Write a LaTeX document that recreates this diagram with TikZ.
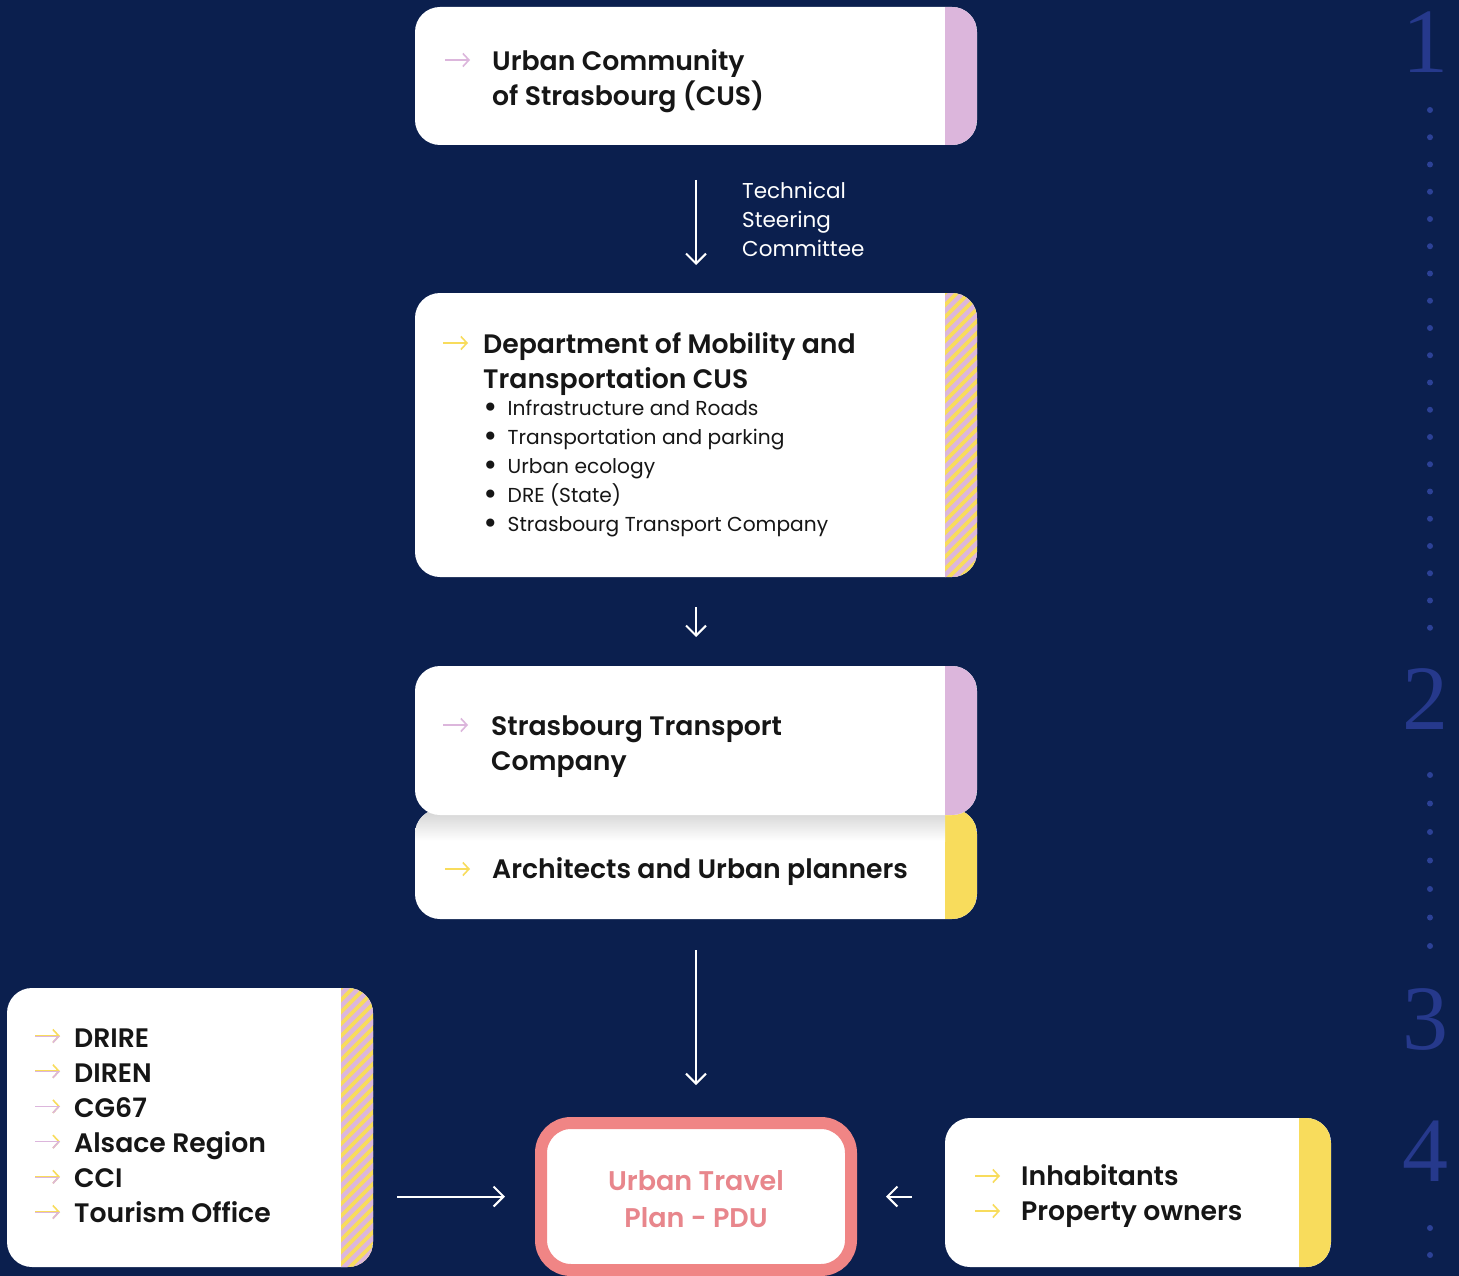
\documentclass[tikz,border=0pt]{standalone}
\usepackage{fontspec}
\setmainfont{Poppins}[BoldFont={Poppins SemiBold}]
\newfontfamily\numfont{Liberation Serif}
\newfontfamily\symfont{DejaVu Sans}
\usetikzlibrary{arrows.meta}
\definecolor{navy}{HTML}{0B1F4E}
\definecolor{lpink}{HTML}{DCB6DC}
\definecolor{lyellow}{HTML}{F8DC5C}
\definecolor{salmon}{HTML}{F08585}
\definecolor{salmontext}{HTML}{E8868C}
\definecolor{numblue}{HTML}{26398C}
\definecolor{dotblue}{HTML}{2C4196}
\definecolor{ink}{HTML}{161616}
\tikzset{
  box/.style={fill=white, rounded corners=25pt, inner sep=0pt, outer sep=0pt},
  title/.style={anchor=west, align=left, text=ink, font=\fontsize{26.7}{35}\selectfont\bfseries, inner sep=0pt},
  plain/.style={anchor=west, align=left, text=ink, font=\fontsize{20.2}{29}\selectfont, inner sep=0pt},
  flow/.style={draw=white, line width=2pt, -{Straight Barb[length=10pt,width=20pt,line width=2pt]}},
  icon/.style={line width=1.6pt, -{Straight Barb[length=6pt,width=13pt,line width=1.6pt]}},
  numstyle/.style={text=numblue, font=\fontsize{92}{92}\selectfont\numfont, inner sep=0pt},
  dot/.style={circle, fill=dotblue, inner sep=0pt, minimum size=6pt},
}
\newcommand\solidbar[2]{%
  \begin{scope}
    \clip[rounded corners=25pt] (#1.south west) rectangle (#1.north east);
    \fill[#2] ([xshift=-32pt]#1.north east) rectangle (#1.south east);
  \end{scope}}
\newcommand\stripedbar[3]{% node, top y, bottom y
  \begin{scope}
    \clip[rounded corners=25pt] (#1.south west) rectangle (#1.north east);
    \clip ([xshift=-32pt]#1.north east) rectangle (#1.south east);
    \fill[lyellow] ([xshift=-32pt]#1.north east) rectangle (#1.south east);
    \pgfmathtruncatemacro\nst{(#3-#2+60)/12}
    \foreach \k in {0,...,\nst} {
      \draw[lpink, line width=4.3pt] ([xshift=-40pt]#1.north east |- 0,#2+12*\k-10) -- ++(50,-50);
    }
  \end{scope}}
\newcommand\twotone[2]{% x,y of a two-colour icon arrow
  \draw[icon, lyellow] (#1,#2) -- ++(25,0);
  \begin{scope}
    \clip (#1-2,#2+0.3) rectangle (#1+30,#2+10);
    \draw[icon, lpink] (#1,#2) -- ++(25,0);
  \end{scope}}
\newcommand\blt{\smash{\raisebox{-1.5pt}{\symfont\fontsize{28}{29}\selectfont •}}\hspace{9pt}}
\begin{document}
\begin{tikzpicture}[x=1pt,y=-1pt]
\fill[navy] (0,0) rectangle (1459,1276);
\useasboundingbox (0,0) rectangle (1459,1276);

% step numbers and dotted guide
\node[numstyle] (n1) at (1425,42) {1};
\node[numstyle] (n2) at (1425,699) {2};
\node[numstyle] (n3) at (1425,1019) {3};
\node[numstyle] (n4) at (1425,1151) {4};
\foreach \i in {0,...,19} \node[dot] (da\i) at (1430,110+27.25*\i) {};
\foreach \i in {0,...,6} \node[dot] (db\i) at (1430,775+28.5*\i) {};
\foreach \i in {0,...,1} \node[dot] (dc\i) at (1430,1228+27*\i) {};

% box 1
\node[box, minimum width=562pt, minimum height=138pt] (b1) at (696,76) {};
\solidbar{b1}{lpink}
\draw[icon, lpink] (445,60) -- ++(25,0);
\node[title] (t1) at (492,81) {Urban Community\\of Strasbourg (CUS)};

% technical steering committee label
\node[anchor=west, align=left, text=white, font=\fontsize{21.5}{29}\selectfont, inner sep=0pt] (tsc) at (742,219) {Technical\\Steering\\Committee};

% box 2
\node[box, minimum width=562pt, minimum height=284pt] (b2) at (696,435) {};
\stripedbar{b2}{293}{577}
\draw[icon, lyellow] (443,343) -- ++(25,0);
\node[title] (t2) at (483,364) {Department of Mobility and\\Transportation CUS};
\node[plain] (t2b) at (482,469) {\blt Infrastructure and Roads\\\blt Transportation and parking\\\blt Urban ecology\\\blt DRE (State)\\\blt Strasbourg Transport Company};

% box 4 (behind box 3)
\node[box, minimum width=562pt, minimum height=110pt] (b4) at (696,864) {};
\solidbar{b4}{lyellow}
\begin{scope}
  \clip[rounded corners=25pt] (b4.south west) rectangle (b4.north east);
  \shade[top color=black!18, bottom color=white] (b4.north west) rectangle ([xshift=-32pt,yshift=-32pt]b4.north east);
\end{scope}
\draw[icon, lyellow] (445,869) -- ++(25,0);
\node[title] (t4) at (492,872) {Architects and Urban planners};

% box 3
\node[box, minimum width=562pt, minimum height=149pt] (b3) at (696,740.5) {};
\solidbar{b3}{lpink}
\draw[icon, lpink] (443,725) -- ++(25,0);
\node[title] (t3) at (491,747) {Strasbourg Transport\\Company};

% left box
\node[box, minimum width=366pt, minimum height=279pt] (bl) at (190,1127.5) {};
\stripedbar{bl}{988}{1267}
\foreach \i in {0,...,5} {\twotone{35}{1036+35.2*\i}}
\node[title] (tl) at (74,1126) {DRIRE\\DIREN\\CG67\\Alsace Region\\CCI\\Tourism Office};

% right box
\node[box, minimum width=386pt, minimum height=149pt] (br) at (1138,1192.5) {};
\solidbar{br}{lyellow}
\draw[icon, lyellow] (975,1176) -- ++(25,0);
\draw[icon, lyellow] (975,1211) -- ++(25,0);
\node[title] (tr) at (1021,1196) {Inhabitants\\Property owners};

% PDU
\node[draw=salmon, fill=white, line width=12pt, rounded corners=30pt, minimum width=310pt, minimum height=147pt, inner sep=0pt] (pdu) at (696,1196.5) {};
\node[align=center, text=salmontext, font=\fontsize{27}{37}\selectfont\bfseries, inner sep=0pt] (pdutxt) at (696,1199.5) {Urban Travel\\Plan - PDU};

% connectors
\draw[flow, shorten <=35pt, shorten >=28pt] (b1.south) -- (b2.north);
\draw[flow, shorten <=30pt, shorten >=29pt] (b2.south) -- (b3.north);
\draw[flow, shorten <=31pt, shorten >=32pt] (b4.south) -- (pdu.north);
\draw[flow, shorten <=24pt, shorten >=30pt] (bl.east |- pdu.west) -- (pdu.west);
\draw[flow, shorten <=33pt, shorten >=29pt] (br.west |- pdu.east) -- (pdu.east);
\end{tikzpicture}
\end{document}
